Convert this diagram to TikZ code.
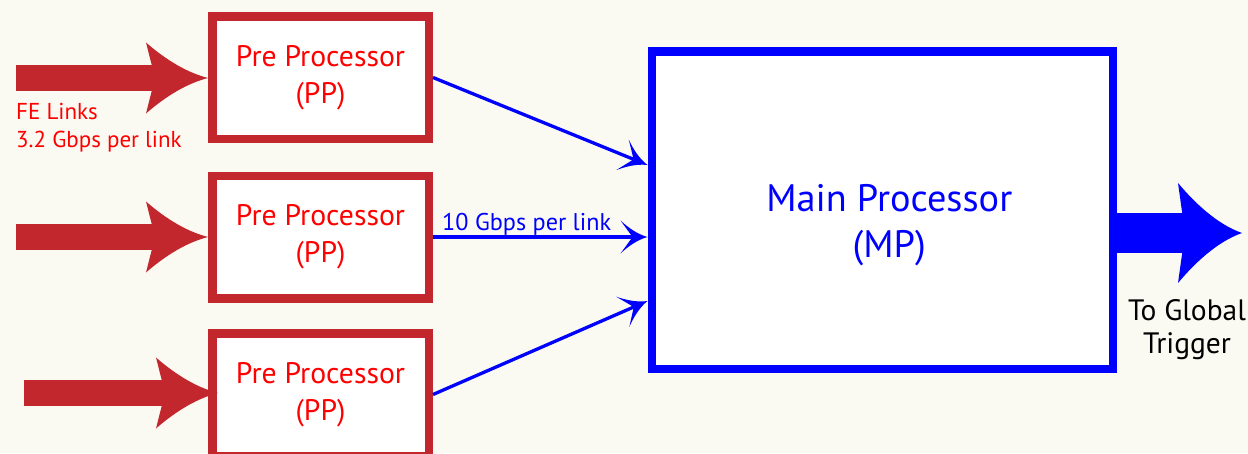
\documentclass[tikz,border=0pt]{standalone}
\usepackage{fontspec}
\setmainfont{PT Sans}
\usetikzlibrary{arrows.meta,calc}

\definecolor{bgcream}{RGB}{250,250,243}
\definecolor{ppred}{RGB}{193,39,45}
\definecolor{txtred}{RGB}{255,0,0}
\definecolor{mpblue}{RGB}{0,0,255}

\newdimen\sweptnotch

% Arrow head with slightly concave flanks and a notched back
\pgfdeclarearrow{
  name = Swept,
  parameters = {\the\pgfarrowlength,\the\pgfarrowwidth,\the\pgfarrowinset},
  setup code = {
    \pgfarrowssettipend{0pt}
    \pgfarrowssetbackend{-\pgfarrowlength}
    \sweptnotch=\pgfarrowinset
    \advance\sweptnotch by -\pgfarrowlength
    \pgfarrowssetlineend{\sweptnotch}
    \pgfarrowssavethe\pgfarrowlength
    \pgfarrowssavethe\pgfarrowwidth
    \pgfarrowssavethe\pgfarrowinset
  },
  drawing code = {
    \sweptnotch=\pgfarrowinset
    \advance\sweptnotch by -\pgfarrowlength
    \pgfpathmoveto{\pgfqpoint{0pt}{0pt}}
    \pgfpathcurveto
      {\pgfpoint{-0.4*\pgfarrowlength}{0.09*\pgfarrowwidth}}
      {\pgfpoint{-0.75*\pgfarrowlength}{0.31*\pgfarrowwidth}}
      {\pgfpoint{-\pgfarrowlength}{0.5*\pgfarrowwidth}}
    \pgfpathlineto{\pgfpoint{\sweptnotch}{0pt}}
    \pgfpathlineto{\pgfpoint{-\pgfarrowlength}{-0.5*\pgfarrowwidth}}
    \pgfpathcurveto
      {\pgfpoint{-0.75*\pgfarrowlength}{-0.31*\pgfarrowwidth}}
      {\pgfpoint{-0.4*\pgfarrowlength}{-0.09*\pgfarrowwidth}}
      {\pgfqpoint{0pt}{0pt}}
    \pgfpathclose
    \pgfusepathqfill
  },
  defaults = {length=10pt, width=10pt, inset=3pt}
}

\tikzset{
  ppbox/.style={draw=ppred, line width=8.5pt, fill=white,
    minimum width=216.5pt, minimum height=122.5pt, inner sep=0pt,
    text=txtred, align=center, font=\fontsize{29.7}{37}\selectfont},
  mpbox/.style={draw=mpblue, line width=8.5pt, fill=white,
    minimum width=461pt, minimum height=317.5pt, inner sep=0pt},
  mptext/.style={text=mpblue, align=center, inner sep=0pt,
    font=\fontsize{38.3}{46}\selectfont},
  feed/.style={draw=ppred, line width=26pt,
    -{Swept[length=62pt,width=71pt,inset=9pt]}},
  link/.style={draw=mpblue, line width=3.3pt,
    -{Swept[length=27pt,width=33pt,inset=12pt]}},
  trigarrow/.style={draw=mpblue, line width=40pt,
    -{Swept[length=64pt,width=100pt,inset=7pt]}},
  fetext/.style={text=txtred, align=left, inner sep=0pt,
    font=\fontsize{23}{28}\selectfont},
  ratetext/.style={text=mpblue, inner sep=0pt,
    font=\fontsize{24.2}{28}\selectfont},
  gttext/.style={text=black, align=center, inner sep=0pt,
    font=\fontsize{29.5}{33}\selectfont},
}

\begin{document}
\begin{tikzpicture}[x=1pt, y=-1pt]
  \clip (0,0) rectangle (1248,453);
  \fill[bgcream] (0,0) rectangle (1248,453);

  % processing blocks
  \node[ppbox] (pp1) at (320.5,77.5) {Pre Processor\\(PP)};
  \node[ppbox] (pp2) at (320.5,237) {Pre Processor\\(PP)};
  \node[ppbox] (pp3) at (320.5,394.5) {Pre Processor\\(PP)};
  \node[mpbox] (mp) at (882.25,210) {};
  \node[mptext] (mplabel) at ($(mp.center)+(7,15)$) {Main Processor\\(MP)};

  % front-end inputs
  \coordinate (fe1) at (16,78);
  \coordinate (fe2) at (16,237);
  \coordinate (fe3) at (24,393);
  \draw[feed] (fe1) -- (fe1 -| pp1.west);
  \draw[feed] (fe2) -- (fe2 -| pp2.west);
  \draw[feed] (fe3) -- ($(fe3 -| pp3.west)+(10,0)$);

  \node[fetext, anchor=north west] (felabel) at (16,103.5)
    {FE Links\\3.2 Gbps per link};

  % links to the main processor
  \draw[link] (pp1.east) -- ($(mp.west)+(0,-45)$);
  \draw[link] (pp2.east) -- (pp2.east -| mp.west);
  \draw[link] (pp3.east) -- ($(mp.west)+(0,91)$);
  \node[ratetext, anchor=base west] (rate) at (442,230) {10 Gbps per link};

  % output
  \coordinate (gt) at (1242,233);
  \draw[trigarrow] (gt -| mp.east) -- (gt);
  \node[gttext] (gtlabel) at (1187,330) {To Global\\Trigger};
\end{tikzpicture}
\end{document}
